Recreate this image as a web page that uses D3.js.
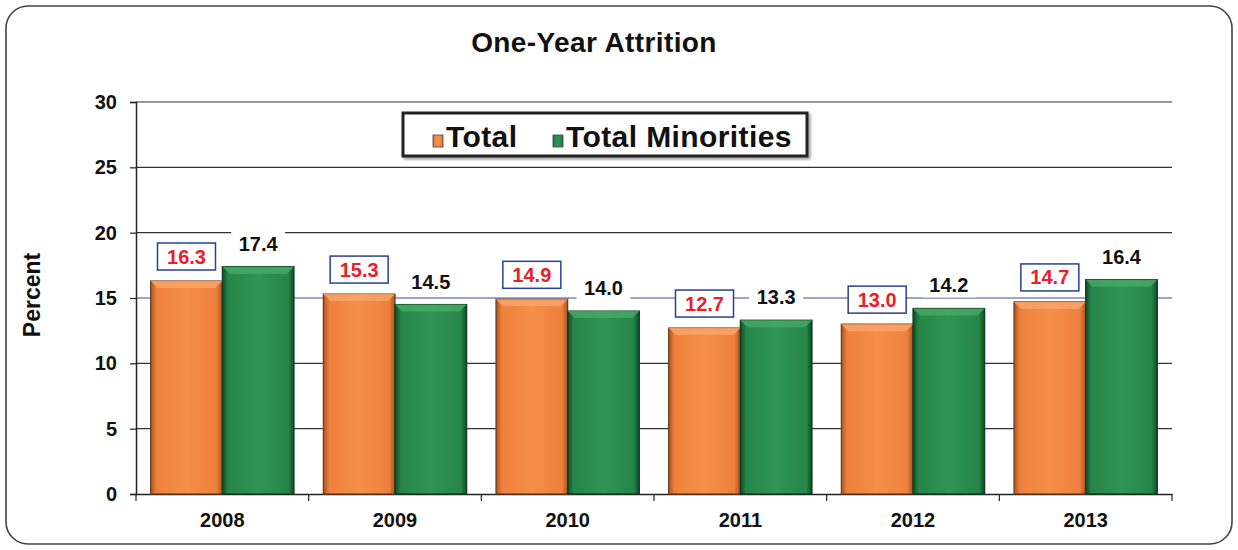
<!DOCTYPE html>
<html>
<head>
<meta charset="utf-8">
<script src="https://cdn.jsdelivr.net/npm/d3@7"></script>
<style>
  body { margin: 0; background: #fff; }
  text { font-family: "Liberation Sans", Arial, sans-serif; font-weight: bold; }
</style>
</head>
<body>
<div id="chart"></div>
<script>
var years = ['2008', '2009', '2010', '2011', '2012', '2013']
var totalValues = [16.3, 15.3, 14.9, 12.7, 13.0, 14.7]
var minorityValues = [17.4, 14.5, 14.0, 13.3, 14.2, 16.4]
var seriesNames = ['Total', 'Total Minorities']
var yTicks = [0, 5, 10, 15, 20, 25, 30]

var W = 1238, H = 550
var margin = {top: 102, right: 66, bottom: 56, left: 136},
  width = W - margin.left - margin.right,
  height = H - margin.top - margin.bottom

var root = d3.select('#chart').append('svg')
  .attr('width', W)
  .attr('height', H)

var defs = root.append('defs')
function bevel(id, light, mid, dark) {
  var g = defs.append('linearGradient').attr('id', id)
    .attr('x1', '0%').attr('x2', '100%').attr('y1', '0%').attr('y2', '0%')
  g.append('stop').attr('offset', '0%').attr('stop-color', dark)
  g.append('stop').attr('offset', '8%').attr('stop-color', mid)
  g.append('stop').attr('offset', '50%').attr('stop-color', light)
  g.append('stop').attr('offset', '92%').attr('stop-color', mid)
  g.append('stop').attr('offset', '100%').attr('stop-color', dark)
}
bevel('gradOrange', '#f58f4a', '#ee803c', '#a85422')
bevel('gradGreen', '#2f9455', '#268548', '#114a26')
var shadow = defs.append('filter').attr('id', 'shadow')
shadow.append('feDropShadow').attr('dx', 2).attr('dy', 2).attr('stdDeviation', 1.5)
  .attr('flood-color', '#555').attr('flood-opacity', 0.6)

// outer frame
root.append('rect')
  .attr('x', 6).attr('y', 6)
  .attr('width', W - 12).attr('height', H - 12)
  .attr('rx', 22).attr('ry', 22)
  .attr('fill', 'none')
  .attr('stroke', '#444')
  .attr('stroke-width', 1.6)

root.append('text')
  .attr('x', 594).attr('y', 52)
  .attr('text-anchor', 'middle')
  .attr('font-size', 28)
  .attr('letter-spacing', 0.4)
  .attr('fill', '#111')
  .text('One-Year Attrition')

root.append('text')
  .attr('transform', 'translate(40,' + 295 + ') rotate(-90)')
  .attr('text-anchor', 'middle')
  .attr('font-size', 23)
  .attr('fill', '#111')
  .text('Percent')

var svg = root.append('g')
  .attr('transform', 'translate(' + margin.left + ',' + margin.top + ')')

var y_scale = d3.scaleLinear().domain([0, 30]).range([height, 0])
var x_scale = d3.scaleBand().domain(years).range([0, width]).paddingInner(0.17).paddingOuter(0.085)
var x_inner = d3.scaleBand().domain(seriesNames).range([0, x_scale.bandwidth()])

// gridlines
svg.append('g')
  .selectAll('line')
  .data(yTicks.slice(1))
  .enter()
  .append('line')
  .attr('x1', 0).attr('x2', width)
  .attr('y1', function(d) { return y_scale(d) })
  .attr('y2', function(d) { return y_scale(d) })
  .attr('stroke', function(d) { return d === 15 ? '#3a4f8a' : '#333' })
  .attr('stroke-width', 1.2)

var y_axis = d3.axisLeft(y_scale).tickValues(yTicks).tickSize(6).tickPadding(13)
svg.append('g')
  .attr('class', 'axis y-axis')
  .call(y_axis)
  .call(function(g) {
    g.select('.domain').attr('stroke', '#222').attr('stroke-width', 1.5)
    g.selectAll('.tick line').attr('stroke', '#222').attr('stroke-width', 1.2)
    g.selectAll('text').attr('font-size', 20).attr('fill', '#111')
      .attr('font-family', '"Liberation Sans", Arial, sans-serif').attr('font-weight', 'bold')
  })

var x_axis = d3.axisBottom(x_scale).tickSize(0).tickPadding(19)
var xg = svg.append('g')
  .attr('class', 'axis x-axis')
  .attr('transform', 'translate(0,' + height + ')')
  .call(x_axis)
xg.select('.domain').attr('stroke', '#222').attr('stroke-width', 1.5)
xg.selectAll('text').attr('font-size', 20).attr('fill', '#111')
  .attr('font-family', '"Liberation Sans", Arial, sans-serif').attr('font-weight', 'bold')
// boundary ticks between categories
xg.selectAll('.sep')
  .data(d3.range(years.length + 1))
  .enter()
  .append('line')
  .attr('x1', function(i) { return i * width / years.length })
  .attr('x2', function(i) { return i * width / years.length })
  .attr('y1', 0).attr('y2', 7)
  .attr('stroke', '#222').attr('stroke-width', 1.2)

var rows = years.map(function(y, i) {
  return {year: y, values: [
    {name: 'Total', value: totalValues[i]},
    {name: 'Total Minorities', value: minorityValues[i]}
  ]}
})

var groups = svg.selectAll('.grp')
  .data(rows)
  .enter()
  .append('g')
  .attr('transform', function(d) { return 'translate(' + x_scale(d.year) + ',0)' })

groups.selectAll('rect.bar')
  .data(function(d) { return d.values })
  .enter()
  .append('rect')
  .attr('class', 'bar')
  .attr('x', function(d) { return x_inner(d.name) })
  .attr('y', function(d) { return y_scale(d.value) })
  .attr('width', x_inner.bandwidth())
  .attr('height', function(d) { return height - y_scale(d.value) })
  .attr('fill', function(d) { return d.name === 'Total' ? 'url(#gradOrange)' : 'url(#gradGreen)' })
  .attr('stroke', function(d) { return d.name === 'Total' ? '#6b3a1c' : '#0f3a1e' })
  .attr('stroke-width', 1.2)

// bevel top highlight
groups.selectAll('path.bev')
  .data(function(d) { return d.values })
  .enter()
  .append('path')
  .attr('class', 'bev')
  .attr('d', function(d) {
    var x0 = x_inner(d.name), w = x_inner.bandwidth(), y0 = y_scale(d.value)
    return 'M' + x0 + ',' + y0 + 'L' + (x0 + w) + ',' + y0 + 'L' + (x0 + w - 7) + ',' + (y0 + 7) +
      'L' + (x0 + 7) + ',' + (y0 + 7) + 'Z'
  })
  .attr('fill', function(d) { return d.name === 'Total' ? '#f9a46a' : '#45a866' })
  .attr('opacity', 0.85)

// value labels
groups.each(function(d) {
  var g = d3.select(this)
  var t = d.values[0], m = d.values[1]
  var cx = x_inner(t.name) + x_inner.bandwidth() / 2
  var boxBottom = y_scale(t.value) - 11
  g.append('rect')
    .attr('x', cx - 29).attr('y', boxBottom - 27)
    .attr('width', 58).attr('height', 27)
    .attr('fill', '#fff').attr('stroke', '#2a3f95').attr('stroke-width', 1.5)
  g.append('text')
    .attr('x', cx).attr('y', boxBottom - 6.5)
    .attr('text-anchor', 'middle')
    .attr('font-size', 20).attr('fill', '#e8202a')
    .text(t.value.toFixed(1))

  var mx = x_inner(m.name) + x_inner.bandwidth() / 2
  var base = y_scale(m.value) - 16
  g.append('rect')
    .attr('x', mx - 27).attr('y', base - 19)
    .attr('width', 54).attr('height', 24)
    .attr('fill', '#fff')
  g.append('text')
    .attr('x', mx).attr('y', base)
    .attr('text-anchor', 'middle')
    .attr('font-size', 20).attr('fill', '#111')
    .text(m.value.toFixed(1))
})

// legend
var legend = root.append('g').attr('transform', 'translate(403,113)')
legend.append('rect')
  .attr('width', 404).attr('height', 43)
  .attr('fill', '#fff').attr('stroke', '#222').attr('stroke-width', 3)
  .attr('filter', 'url(#shadow)')
var legendItems = [
  {name: seriesNames[0], x: 30, fill: 'url(#gradOrange)'},
  {name: seriesNames[1], x: 150, fill: 'url(#gradGreen)'}
]
legendItems.forEach(function(it) {
  legend.append('rect')
    .attr('x', it.x).attr('y', 22).attr('width', 10).attr('height', 12)
    .attr('fill', it.fill).attr('stroke', '#444').attr('stroke-width', 0.8)
  legend.append('text')
    .attr('x', it.x + 13).attr('y', 34)
    .attr('font-size', 30).attr('letter-spacing', 0.4)
    .attr('fill', '#111')
    .text(it.name)
})
</script>
</body>
</html>
